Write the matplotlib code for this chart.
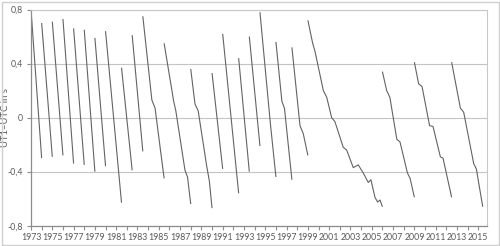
import numpy as np
import matplotlib
matplotlib.use("Agg")
import matplotlib.pyplot as plt
from matplotlib.patches import Rectangle

plt.rcParams['font.family'] = ['Lato', 'DejaVu Sans']

# Dates (decimal years) of each leap-second segment start and the readings of UT1-UTC
seg_years = [
    [1973.0, 1974.0],
    [1974.0, 1975.0],
    [1975.0, 1976.0],
    [1976.0, 1977.0],
    [1977.0, 1978.0],
    [1978.0, 1979.0],
    [1979.0, 1980.0],
    [1980.0, 1981.5],
    [1981.5, 1982.5],
    [1982.5, 1983.5],
    [1983.5, 1984.35, 1984.65, 1985.5],
    [1985.5, 1986.4, 1986.6, 1987.46, 1987.7, 1988.0],
    [1988.0, 1988.4, 1988.7, 1989.5, 1989.75, 1990.0],
    [1990.0, 1991.0],
    [1991.0, 1992.5],
    [1992.5, 1993.5],
    [1993.5, 1994.5],
    [1994.5, 1995.46, 1996.0],
    [1996.0, 1996.56, 1996.8, 1997.5],
    [1997.5, 1998.26, 1998.57, 1999.0],
    [1999.0, 1999.45, 1999.67, 2000.45, 2000.77, 2001.23, 2001.54, 2002.32,
     2002.64, 2003.26, 2003.73, 2004.2, 2004.67, 2004.92, 2005.3, 2005.55,
     2005.77, 2006.0],
    [2006.0, 2006.4, 2006.7, 2007.35, 2007.65, 2008.35, 2008.6, 2009.0],
    [2009.0, 2009.4, 2009.72, 2010.43, 2010.75, 2011.44, 2011.69, 2012.5],
    [2012.5, 2013.32, 2013.63, 2014.57, 2014.82, 2015.42],
]
seg_values = [
    [0.80, -0.30],
    [0.70, -0.29],
    [0.71, -0.28],
    [0.73, -0.34],
    [0.66, -0.35],
    [0.65, -0.40],
    [0.59, -0.36],
    [0.64, -0.63],
    [0.37, -0.39],
    [0.61, -0.25],
    [0.75, 0.13, 0.07, -0.45],
    [0.55, 0.12, 0.05, -0.39, -0.44, -0.64],
    [0.36, 0.10, 0.05, -0.36, -0.47, -0.67],
    [0.33, -0.38],
    [0.62, -0.56],
    [0.44, -0.40],
    [0.60, -0.21],
    [0.78, -0.03, -0.44],
    [0.56, 0.12, 0.07, -0.46],
    [0.52, -0.06, -0.12, -0.28],
    [0.72, 0.55, 0.49, 0.20, 0.15, 0.0, -0.03, -0.22,
     -0.24, -0.37, -0.35, -0.41, -0.48, -0.46, -0.59, -0.625,
     -0.61, -0.66],
    [0.34, 0.20, 0.15, -0.16, -0.18, -0.41, -0.45, -0.59],
    [0.41, 0.25, 0.23, -0.06, -0.065, -0.29, -0.30, -0.59],
    [0.41, 0.07, 0.04, -0.34, -0.38, -0.66],
]

x_ticks = list(range(1973, 2016))
x_labels = [str(y) if y % 2 == 1 else "" for y in x_ticks]
y_ticks = [-0.8, -0.4, 0.0, 0.4, 0.8]
y_labels = ["-0,8", "-0,4", "0", "0,4", "0,8"]

W, H = 500, 246
fig = plt.figure(figsize=(W / 100, H / 100), dpi=100)
fig.patch.set_facecolor('white')
ax_left, ax_right = 31, 487
ax = fig.add_axes([ax_left / W, 1 - 225.7 / H, (ax_right - ax_left) / W, (225.7 - 9.5) / H])

line_color = '#636363'
for xs, vs in zip(seg_years, seg_values):
    ax.plot(xs, vs, color=line_color, lw=0.8, solid_capstyle='butt')

ax.set_xlim(1973, 2015.82)
ax.set_ylim(-0.8, 0.8)
ax.set_xticks(x_ticks)
ax.set_xticklabels(x_labels)
ax.set_yticks(y_ticks)
ax.set_yticklabels(y_labels)

text_color = '#595959'
ax.tick_params(axis='both', direction='out', length=3, width=0.8,
               color='#8c8c8c', labelcolor=text_color, labelsize=6.3, pad=2.5)
ax.tick_params(axis='y', pad=3)

ax.yaxis.grid(True, color='#c4c4c4', lw=0.8)
ax.set_axisbelow(True)
for side in ['left', 'bottom']:
    ax.spines[side].set_color('#8c8c8c')
    ax.spines[side].set_linewidth(0.9)
for side in ['top', 'right']:
    ax.spines[side].set_color('#c8c8c8')
    ax.spines[side].set_linewidth(0.8)

ax.set_ylabel("UT1–UTC in s", color=text_color, fontsize=6.8)
ax.yaxis.set_label_coords((10 - ax_left) / (ax_right - ax_left), 0.5)

fig.patches.append(Rectangle((1.5 / W, 1.5 / H), (W - 3) / W, (H - 3) / H,
                             transform=fig.transFigure, fill=False,
                             edgecolor='#cfcfcf', lw=1.0))

fig.savefig('out.png', dpi=100)
